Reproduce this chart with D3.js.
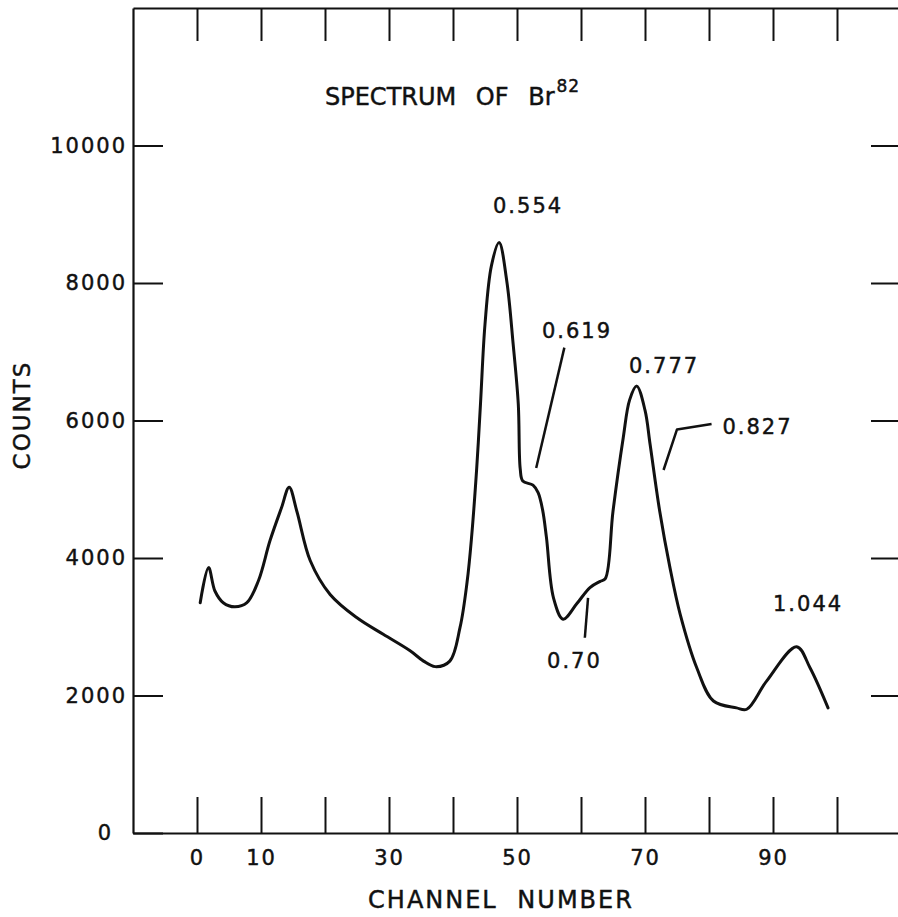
<!DOCTYPE html>
<html>
<head>
<meta charset="utf-8">
<script src="https://cdn.jsdelivr.net/npm/d3@7"></script>
<style>
  body { margin: 0; background: #fff; }
  svg { display: block; }
  text { font-family: "DejaVu Sans", sans-serif; fill: #111; stroke: #111; stroke-width: 0.45px; }
</style>
</head>
<body>
<div id="chart"></div>
<script>
// channel / counts
var channels = [0.5, 1.8, 2.8, 4.1, 5.9, 7.8, 9.6, 11.4, 13.2, 14.4, 15.6, 17.7, 20.8, 25, 29.1, 33.3, 35.4, 37.2, 39.5,
    41.1, 42.2, 42.9, 43.7, 44.3, 45, 46, 47.2, 48.4, 49.4, 50.2, 50.5, 50.9, 52.5, 53.3, 54.0, 54.6, 55.7, 57.2, 59.3, 61.4,
    63.0, 63.8, 65.0, 66.6, 67.6, 68.7, 70.0, 70.8, 72.3, 73.9, 75.5, 78.1, 80.7, 84.3, 85.9, 89, 93.7, 95.8, 98.6];
var counts = [3350, 3860, 3520, 3350, 3290, 3350, 3670, 4250, 4730, 5030, 4680, 3960, 3470, 3130, 2890, 2650, 2500, 2420, 2500,
    2990, 3650, 4300, 5300, 6250, 7400, 8250, 8590, 8030, 7110, 6240, 5300, 5120, 5060, 4950, 4700, 4300, 3420, 3110, 3330, 3570,
    3660, 3700, 4680, 5750, 6300, 6500, 6150, 5650, 4680, 3860, 3180, 2400, 1920, 1820, 1800, 2210, 2710, 2400, 1820];

var xTicks = [0, 10, 20, 30, 40, 50, 60, 70, 80, 90, 100];
var xLabels = [0, 10, 30, 50, 70, 90];
var yTicks = [0, 2000, 4000, 6000, 8000, 10000];

// peak energies (MeV) and where they sit, in channel/count units
var peakNames = ["0.554", "0.619", "0.777", "0.827", "0.70", "1.044"];
var peakLabelC = [46.25, 53.9, 67.5, 82.1, 54.7, 90];
var peakLabelV = [9020, 7200, 6690, 5810, 2400, 3230];

// leader lines: [channel, counts] pairs
var leader619 = [[57.4, 7060], [53, 5310]];
var leader827 = [[80.4, 5950], [75, 5870], [72.9, 5280]];
var leader70 = [[61.1, 3420], [60.6, 2840]];

var data = channels.map(function (c, i) { return { c: c, v: counts[i] }; });

var W = 898, H = 917;
var svg = d3.select("#chart").append("svg")
    .attr("width", W)
    .attr("height", H);

var x = d3.scaleLinear().domain([-10, 110]).range([133, 901]);
var y = d3.scaleLinear().domain([0, 12000]).range([833, 8]);

var axisStyle = function (g) {
    g.select(".domain").attr("stroke", "#111").attr("stroke-width", 2.2);
    g.selectAll(".tick line").attr("stroke", "#111").attr("stroke-width", 2);
    g.selectAll(".tick text")
        .attr("font-size", 21)
        .attr("letter-spacing", 2)
        .attr("fill", "#111");
};

// bottom
svg.append("g")
    .attr("transform", "translate(0," + y(0) + ")")
    .call(d3.axisBottom(x).tickValues(xTicks).tickSizeInner(-36).tickSizeOuter(0).tickPadding(17)
        .tickFormat(function (d) { return xLabels.indexOf(d) >= 0 ? d : ""; }))
    .call(axisStyle);

// top
svg.append("g")
    .attr("transform", "translate(0," + y(12000) + ")")
    .call(d3.axisTop(x).tickValues(xTicks).tickSizeInner(-33).tickSizeOuter(0).tickFormat(""))
    .call(axisStyle);

// left
var gy = svg.append("g")
    .attr("transform", "translate(" + x(-10) + ",0)")
    .call(d3.axisLeft(y).tickValues(yTicks).tickSizeInner(-30).tickSizeOuter(0).tickPadding(6)
        .tickFormat(d3.format("d")))
    .call(axisStyle);
gy.selectAll(".tick text").filter(function (d) { return d === 0; }).attr("dx", -14);

// right
svg.append("g")
    .attr("transform", "translate(" + x(110) + ",0)")
    .call(d3.axisRight(y).tickValues(yTicks.slice(1)).tickSizeInner(-30).tickSizeOuter(0).tickFormat(""))
    .call(axisStyle);

// spectrum
var line = d3.line()
    .x(function (d) { return x(d.c); })
    .y(function (d) { return y(d.v); })
    .curve(d3.curveCatmullRom.alpha(0.5));

svg.append("path")
    .datum(data)
    .attr("fill", "none")
    .attr("stroke", "#111")
    .attr("stroke-width", 3)
    .attr("stroke-linejoin", "round")
    .attr("stroke-linecap", "round")
    .attr("d", line);

// peak labels
svg.selectAll(".peak")
    .data(peakNames)
    .enter().append("text")
    .attr("class", "peak")
    .attr("x", function (d, i) { return x(peakLabelC[i]); })
    .attr("y", function (d, i) { return y(peakLabelV[i]); })
    .attr("font-size", 21)
    .attr("letter-spacing", 2)
    .text(function (d) { return d; });

var leader = d3.line()
    .x(function (d) { return x(d[0]); })
    .y(function (d) { return y(d[1]); });

[leader619, leader827, leader70].forEach(function (pts) {
    svg.append("path")
        .attr("d", leader(pts))
        .attr("fill", "none")
        .attr("stroke", "#111")
        .attr("stroke-width", 2.5)
        .attr("stroke-linejoin", "round");
});

// title
var title = svg.append("text")
    .attr("x", 325)
    .attr("y", 105)
    .attr("font-size", 24)
    .attr("word-spacing", 12);
title.append("tspan").text("SPECTRUM OF Br");
title.append("tspan").attr("font-size", 17).attr("dy", -13).attr("dx", 2).attr("letter-spacing", 1).text("82");

// axis titles
svg.append("text")
    .attr("x", 501)
    .attr("y", 908)
    .attr("text-anchor", "middle")
    .attr("font-size", 24)
    .attr("letter-spacing", 2)
    .attr("word-spacing", 10)
    .text("CHANNEL NUMBER");

svg.append("text")
    .attr("transform", "translate(30,415) rotate(-90)")
    .attr("text-anchor", "middle")
    .attr("font-size", 23)
    .attr("letter-spacing", 2)
    .text("COUNTS");
</script>
</body>
</html>
